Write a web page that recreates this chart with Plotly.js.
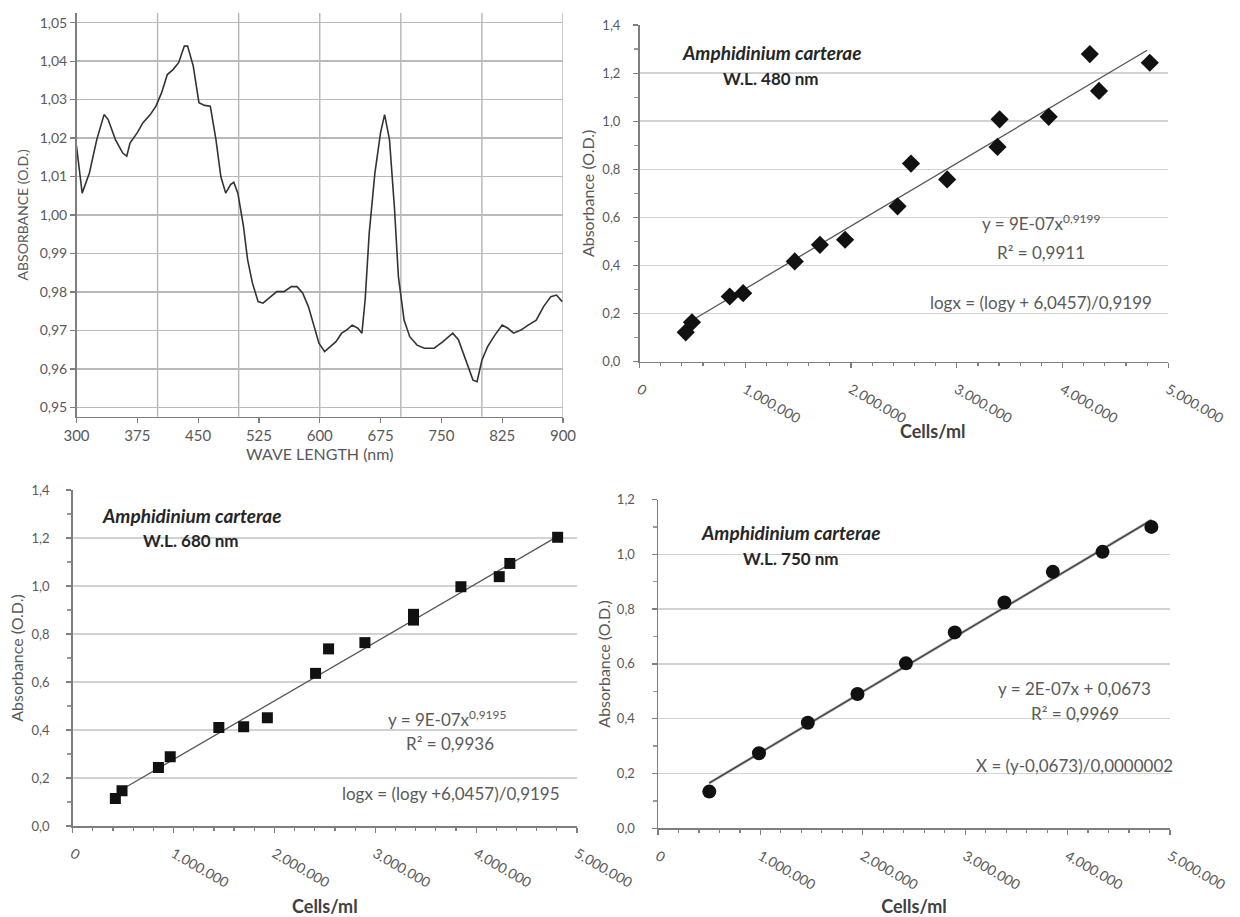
<!DOCTYPE html>
<html>
<head>
<meta charset="utf-8">
<script src="https://cdn.plot.ly/plotly-3.0.1.min.js"></script>
<style>html,body{margin:0;padding:0;background:#fff;}#chart{width:1240px;height:917px;}</style>
</head>
<body>
<div id="chart"></div>
<script>
// ---- Panel 1: absorbance spectrum ----
const wavelength = [300, 307, 316, 325, 334, 339, 348, 357, 362, 366, 375, 382, 391, 398, 405, 412, 419, 426, 433, 437, 444, 451, 458, 465, 472, 478, 484, 490, 494, 499, 506, 511, 517, 524, 530, 540, 547, 556, 565, 572, 579, 586, 593, 599, 606, 613, 620, 627, 633, 640, 647, 652, 656, 661, 668, 675, 680, 686, 692, 697, 704, 711, 720, 729, 741, 752, 764, 771, 780, 789, 794, 800, 807, 816, 825, 832, 839, 848, 857, 867, 876, 885, 892, 899];
const absorbance = [1.0179, 1.0057, 1.011, 1.0196, 1.0261, 1.0248, 1.0196, 1.0161, 1.0153, 1.0187, 1.0214, 1.024, 1.0261, 1.0283, 1.0318, 1.0365, 1.0378, 1.0396, 1.0439, 1.0439, 1.0387, 1.0292, 1.0285, 1.0283, 1.0196, 1.010, 1.0057, 1.0079, 1.0085, 1.0057, 0.997, 0.9884, 0.9823, 0.9775, 0.9771, 0.9788, 0.9801, 0.9801, 0.9814, 0.9814, 0.9797, 0.9762, 0.971, 0.9667, 0.9645, 0.9658, 0.9671, 0.9693, 0.9701, 0.9714, 0.9706, 0.9693, 0.978, 0.9953, 1.0109, 1.0214, 1.0261, 1.0196, 1.0023, 0.984, 0.9727, 0.9684, 0.9662, 0.9654, 0.9654, 0.9671, 0.9693, 0.9676, 0.9623, 0.9571, 0.9567, 0.9623, 0.9658, 0.9688, 0.9714, 0.9706, 0.9693, 0.9701, 0.9714, 0.9727, 0.9762, 0.9788, 0.9792, 0.9775];
const spectrumGridX = [400, 500, 600, 700, 800, 900];

// ---- Panel 2: W.L. 480 nm ----
const cells480 = [437000, 496000, 853000, 980000, 1468000, 1706000, 1944000, 2440000, 2567000, 2909000, 3385000, 3405000, 3869000, 4258000, 4345000, 4825000];
const abs480 = [0.122, 0.164, 0.271, 0.285, 0.417, 0.486, 0.507, 0.646, 0.824, 0.758, 0.893, 1.008, 1.018, 1.279, 1.126, 1.243];
const trend480X = [470000, 4800000];
const trend480Y = [0.165, 1.295];

// ---- Panel 3: W.L. 680 nm ----
const cells680 = [423000, 489000, 850000, 967000, 1449000, 1695000, 1930000, 2408000, 2537000, 2897000, 3379000, 3379000, 3849000, 4229000, 4334000, 4808000];
const abs680 = [0.115, 0.147, 0.244, 0.289, 0.410, 0.414, 0.451, 0.636, 0.738, 0.764, 0.882, 0.858, 0.997, 1.039, 1.094, 1.203];
const trend680X = [470000, 4820000];
const trend680Y = [0.148, 1.21];

// ---- Panel 4: W.L. 750 nm ----
const cells750 = [501000, 986000, 1463000, 1948000, 2421000, 2898000, 3383000, 3856000, 4341000, 4818000];
const abs750 = [0.134, 0.274, 0.385, 0.490, 0.602, 0.715, 0.824, 0.936, 1.009, 1.100];
const trend750X = [500000, 4820000];
const trend750Y = [0.165, 1.125];

const W = 1240, H = 917;
const px = v => v / W;
const py = v => 1 - v / H;

const FONT = 'Lato, "Open Sans", sans-serif';
const tickGrey = '#595959';
const axisGrey = '#7f7f7f';

const traces = [
  {x: wavelength, y: absorbance, xaxis: 'x', yaxis: 'y', mode: 'lines', line: {color: '#333', width: 1.6}},
  {x: trend480X, y: trend480Y, xaxis: 'x2', yaxis: 'y2', mode: 'lines', line: {color: '#555', width: 1.3}},
  {x: cells480, y: abs480, xaxis: 'x2', yaxis: 'y2', mode: 'markers', marker: {symbol: 'diamond', size: 14, color: '#111'}},
  {x: trend680X, y: trend680Y, xaxis: 'x3', yaxis: 'y3', mode: 'lines', line: {color: '#555', width: 1.3}},
  {x: cells680, y: abs680, xaxis: 'x3', yaxis: 'y3', mode: 'markers', marker: {symbol: 'square', size: 11, color: '#111'}},
  {x: trend750X, y: trend750Y, xaxis: 'x4', yaxis: 'y4', mode: 'lines', line: {color: '#a5a5a5', width: 2.8}},
  {x: trend750X, y: trend750Y, xaxis: 'x4', yaxis: 'y4', mode: 'lines', line: {color: '#333', width: 1.1}},
  {x: cells750, y: abs750, xaxis: 'x4', yaxis: 'y4', mode: 'markers', marker: {symbol: 'circle', size: 14, color: '#111'}}
];

const cellsTitleFont = {family: FONT, size: 18, color: '#404040'};

function cellAxis(domain, anchor, title, standoff) {
  const ax = {
    domain: domain, anchor: anchor, range: [0, 5000000], dtick: 1000000, tick0: 0,
    tickformat: ',d', exponentformat: 'none', tickangle: 30,
    ticks: 'outside', ticklen: 5, tickcolor: axisGrey, tickwidth: 1.2,
    minor: {dtick: 200000, ticks: 'outside', ticklen: 3, tickcolor: axisGrey},
    showline: true, linecolor: axisGrey, linewidth: 1.5, showgrid: false, zeroline: false,
    tickfont: {family: FONT, size: 14, color: tickGrey}, ticklabelstandoff: 8, fixedrange: true
  };
  if (title) ax.title = {text: title, font: cellsTitleFont, standoff: standoff};
  return ax;
}
function absAxis(domain, anchor, top, labelGap, standoff) {
  return {
    domain: domain, anchor: anchor, range: [0, top], dtick: 0.2, tick0: 0, tickformat: '.1f',
    ticks: 'outside', ticklen: 5, tickcolor: axisGrey, tickwidth: 1.2,
    minor: {dtick: 0.1, ticks: 'outside', ticklen: 4, tickcolor: '#999'},
    showline: true, linecolor: axisGrey, linewidth: 1.5,
    showgrid: true, gridcolor: '#d2d2d2', gridwidth: 1.5, zeroline: false,
    tickfont: {family: FONT, size: 13, color: tickGrey}, ticklabelstandoff: labelGap,
    title: {text: 'Absorbance (O.D.)', font: {family: FONT, size: 16, color: tickGrey}, standoff: standoff},
    fixedrange: true
  };
}

const shapes = spectrumGridX.map(v => ({
  type: 'line', xref: 'x', yref: 'y domain', x0: v, x1: v, y0: 0, y1: 1,
  line: {color: '#b5b5b5', width: 1.4}, layer: 'below'
}));

const speciesFont = {family: FONT, size: 19, color: '#262626'};
const wlFont = {family: FONT, size: 17, color: '#262626'};
const eqFont = {family: FONT, size: 17, color: '#595959'};

function ann(text, x, y, font) {
  return {text: text, xref: 'paper', yref: 'paper', x: px(x), y: py(y), xanchor: 'center', yanchor: 'middle', showarrow: false, font: font};
}

const annotations = [
  ann('<b><i>Amphidinium carterae</i></b>', 772, 52, speciesFont),
  ann('<b>W.L. 480 nm</b>', 771, 78, wlFont),
  ann('y = 9E-07x<sup>0,9199</sup>', 1041, 222, eqFont),
  ann('R² = 0,9911', 1041, 252, eqFont),
  ann('logx = (logy + 6,0457)/0,9199', 1041, 302, eqFont),
  ann('<b>Cells/ml</b>', 933, 431, cellsTitleFont),

  ann('<b><i>Amphidinium carterae</i></b>', 192, 515, speciesFont),
  ann('<b>W.L. 680 nm</b>', 191, 540, wlFont),
  ann('y = 9E-07x<sup>0,9195</sup>', 447, 718, eqFont),
  ann('R² = 0,9936', 450, 743, eqFont),
  ann('logx = (logy +6,0457)/0,9195', 451, 793, eqFont),

  ann('<b><i>Amphidinium carterae</i></b>', 791, 532, speciesFont),
  ann('<b>W.L. 750 nm</b>', 791, 558, wlFont),
  ann('y = 2E-07x + 0,0673', 1074, 688, eqFont),
  ann('R² = 0,9969', 1075, 713, eqFont),
  ann('X = (y-0,0673)/0,0000002', 1074, 765, eqFont)
];

const layout = {
  width: W, height: H, margin: {l: 0, r: 0, t: 0, b: 0},
  paper_bgcolor: '#fff', plot_bgcolor: '#fff', showlegend: false,
  separators: ',.', font: {family: FONT, color: tickGrey},
  xaxis: {
    domain: [px(76.5), px(563)], anchor: 'y', range: [300, 900], tick0: 300, dtick: 75,
    ticks: 'outside', ticklen: 5, tickcolor: axisGrey, tickwidth: 1.2,
    showline: true, linecolor: axisGrey, linewidth: 1.5, showgrid: false, zeroline: false,
    tickfont: {family: FONT, size: 15, color: tickGrey},
    title: {text: 'WAVE LENGTH (nm)', font: {family: FONT, size: 16, color: tickGrey}, standoff: 1},
    fixedrange: true
  },
  yaxis: {
    domain: [py(416.7), py(13)], anchor: 'x', range: [0.9476, 1.0525], tick0: 0.95, dtick: 0.01, tickformat: '.2f',
    ticks: 'outside', ticklen: 5, tickcolor: axisGrey, tickwidth: 1.2,
    showline: true, linecolor: axisGrey, linewidth: 1.5,
    showgrid: true, gridcolor: '#b9b9b9', gridwidth: 1.4, zeroline: false,
    tickfont: {family: FONT, size: 14, color: tickGrey},
    title: {text: 'ABSORBANCE (O.D.)', font: {family: FONT, size: 14, color: tickGrey}, standoff: 7},
    fixedrange: true
  },
  xaxis2: cellAxis([px(639.5), px(1168.3)], 'y2', null, 0),
  yaxis2: absAxis([py(361.7), py(25)], 'x2', 1.4, 10, 4),
  xaxis3: cellAxis([px(72.7), px(577)], 'y3', '<b>Cells/ml</b>', 12),
  yaxis3: absAxis([py(826), py(490)], 'x3', 1.4, 14, 4),
  xaxis4: cellAxis([px(658), px(1170)], 'y4', '<b>Cells/ml</b>', 18),
  yaxis4: absAxis([py(828.3), py(499.5)], 'x4', 1.2, 14, 2),
  shapes: shapes,
  annotations: annotations
};

Plotly.newPlot('chart', traces, layout, {displayModeBar: false, staticPlot: true});
</script>
</body>
</html>
